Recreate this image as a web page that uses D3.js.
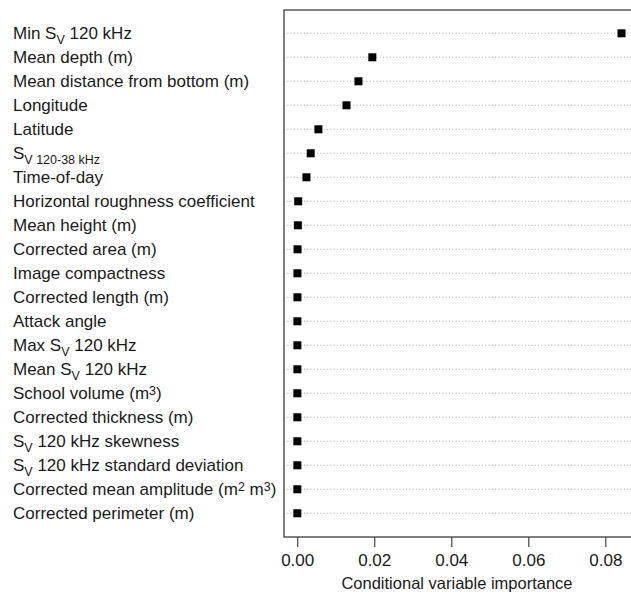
<!DOCTYPE html>
<html>
<head>
<meta charset="utf-8">
<script src="https://cdn.jsdelivr.net/npm/d3@7"></script>
<style>
  body { margin: 0; background: #fff; }
  text { font-family: "Liberation Sans", Arial, sans-serif; fill: #1a1a1a; }
</style>
</head>
<body>
<svg id="chart" width="631" height="592"></svg>
<script>
// variable names, top to bottom. _{..} = subscript, ^{..} = superscript
var variables = [
  "Min S_{V} 120 kHz",
  "Mean depth (m)",
  "Mean distance from bottom (m)",
  "Longitude",
  "Latitude",
  "S_{V 120-38 kHz}",
  "Time-of-day",
  "Horizontal roughness coefficient",
  "Mean height (m)",
  "Corrected area (m)",
  "Image compactness",
  "Corrected length (m)",
  "Attack angle",
  "Max S_{V} 120 kHz",
  "Mean S_{V} 120 kHz",
  "School volume (m^{3})",
  "Corrected thickness (m)",
  "S_{V} 120 kHz skewness",
  "S_{V} 120 kHz standard deviation",
  "Corrected mean amplitude (m^{2} m^{3})",
  "Corrected perimeter (m)"
];
var importance = [0.0842, 0.0195, 0.0159, 0.0128, 0.0055, 0.0035, 0.0024,
  0.00026, 0.00017, 0.00008, 0.00006, 0.00006, 0.00005, 0.00005, 0.00005,
  0.00004, 0.00004, 0.00004, 0.00004, 0.00003, 0.00003];
var xTicks = [0, 0.02, 0.04, 0.06, 0.08];

var svg = d3.select("#chart");
var pLeft = 284, pTop = 10, pRight = 645, pBottom = 537;

var x = d3.scaleLinear().domain([-0.00343, 0.0903]).range([pLeft, pRight]);
var y = d3.scalePoint().domain(d3.range(variables.length)).range([33.3, 513.3]);

/*
 * splits a label into plain / sub / sup pieces
 */
function pieces(s){
  var out = [], re = /([_^])\{([^}]*)\}/g, last = 0, m;
  while((m = re.exec(s)) !== null){
    if(m.index > last) out.push({t: s.slice(last, m.index), k: ""});
    out.push({t: m[2], k: m[1]});
    last = re.lastIndex;
  }
  if(last < s.length) out.push({t: s.slice(last), k: ""});
  return out;
}

// dotted guide lines
svg.append("g").selectAll("line").data(importance).join("line")
  .attr("x1", pLeft).attr("x2", pRight)
  .attr("y1", function(d,i){ return y(i); })
  .attr("y2", function(d,i){ return y(i); })
  .attr("stroke", "#a8a8a8").attr("stroke-width", 1)
  .attr("stroke-dasharray", "1,2.3");

// points
svg.append("g").selectAll("rect").data(importance).join("rect")
  .attr("x", function(d){ return x(d) - 4; })
  .attr("y", function(d,i){ return y(i) - 4; })
  .attr("width", 8).attr("height", 8)
  .attr("fill", "#000");

// box
svg.append("rect").attr("x", pLeft).attr("y", pTop)
  .attr("width", pRight - pLeft).attr("height", pBottom - pTop)
  .attr("fill", "none").attr("stroke", "#4a4a4a").attr("stroke-width", 1.4);

// labels
var lab = svg.append("g").selectAll("text").data(variables).join("text")
  .attr("x", 13)
  .attr("y", function(d,i){ return y(i) + 6; })
  .attr("font-size", 17);
lab.each(function(d){
  var t = d3.select(this);
  pieces(d).forEach(function(p){
    var sp = t.append("tspan").text(p.t);
    if(p.k === "_") sp.attr("font-size", 12.5).attr("baseline-shift", "-5");
    if(p.k === "^") sp.attr("font-size", 12.5).attr("baseline-shift", "4.5");
  });
});

// x axis
var axis = svg.append("g").attr("transform", "translate(0," + pBottom + ")")
  .call(d3.axisBottom(x).tickValues(xTicks).tickSize(10).tickPadding(7)
    .tickFormat(d3.format(".2f")));
axis.select(".domain").remove();
axis.selectAll("line").attr("stroke", "#444").attr("stroke-width", 1.2);
axis.selectAll("text").attr("font-size", 17).attr("fill", "#1a1a1a")
  .style("font-family", "'Liberation Sans', Arial, sans-serif");

svg.append("text").attr("x", 457).attr("y", 589)
  .attr("text-anchor", "middle").attr("font-size", 16.5)
  .text("Conditional variable importance");
</script>
</body>
</html>
